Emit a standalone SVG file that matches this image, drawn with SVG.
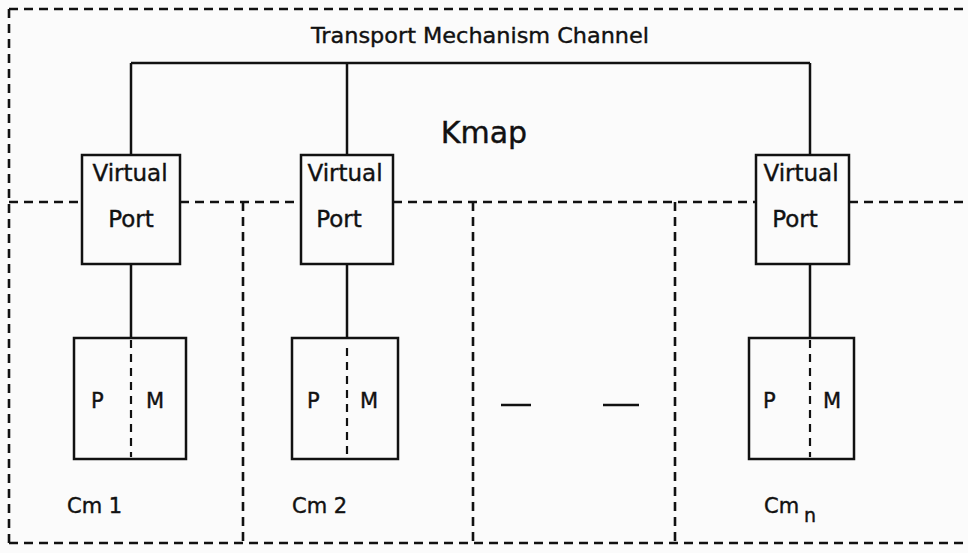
<svg xmlns="http://www.w3.org/2000/svg" width="968" height="553" viewBox="0 0 968 553">
<style>
.bg{fill:#fbfbfb}
.box{fill:none;stroke:#111;stroke-width:2.5}
.solid{fill:none;stroke:#111;stroke-width:2.5}
.dash{fill:none;stroke:#111;stroke-width:2.6;stroke-dasharray:9 6}
.idash{fill:none;stroke:#111;stroke-width:2.2;stroke-dasharray:8 6}
text{font-family:"DejaVu Sans","Liberation Sans",sans-serif;fill:#111;stroke:#111;stroke-width:0.4}
.lbl{font-size:23px;text-anchor:middle}
.pm{font-size:21px}
.cm{font-size:21px}
</style>
<rect class="bg" x="0" y="0" width="968" height="553"/>
<g id="partitions">
<line class="dash" x1="9" y1="9" x2="968" y2="9"/>
<line class="dash" x1="9" y1="9" x2="9" y2="543"/>
<line class="dash" x1="9" y1="543" x2="968" y2="543"/>
<line class="dash" x1="9" y1="202" x2="82" y2="202"/>
<line class="dash" x1="180" y1="202" x2="301" y2="202"/>
<line class="dash" x1="393" y1="202" x2="756" y2="202"/>
<line class="dash" x1="849" y1="202" x2="968" y2="202"/>
<line class="dash" x1="243" y1="202" x2="243" y2="543"/>
<line class="dash" x1="473" y1="202" x2="473" y2="543"/>
<line class="dash" x1="675" y1="202" x2="675" y2="543"/>
</g>
<g id="title">
<text x="480" y="43" style="font-size:22px;text-anchor:middle" textLength="338" lengthAdjust="spacingAndGlyphs">Transport Mechanism Channel</text>
</g>
<g id="kmap">
<text x="484" y="143" style="font-size:30px;text-anchor:middle">Kmap</text>
</g>
<g id="connectors">
<line class="solid" x1="131" y1="63" x2="810" y2="63"/>
<line class="solid" x1="131" y1="63" x2="131" y2="155"/>
<line class="solid" x1="347" y1="63" x2="347" y2="155"/>
<line class="solid" x1="810" y1="63" x2="810" y2="155"/>
<line class="solid" x1="131" y1="264" x2="131" y2="338"/>
<line class="solid" x1="347" y1="264" x2="347" y2="338"/>
<line class="solid" x1="810" y1="264" x2="810" y2="338"/>
</g>
<g id="vp1">
<rect class="box" x="82" y="155" width="98" height="109"/>
<text class="lbl" x="130" y="181">Virtual</text>
<text class="lbl" x="131" y="227">Port</text>
</g>
<g id="vp2">
<rect class="box" x="301" y="155" width="92" height="109"/>
<text class="lbl" x="345" y="181">Virtual</text>
<text class="lbl" x="339" y="227">Port</text>
</g>
<g id="vp3">
<rect class="box" x="756" y="155" width="93" height="109"/>
<text class="lbl" x="801" y="181">Virtual</text>
<text class="lbl" x="795" y="227">Port</text>
</g>
<g id="cm1">
<rect class="box" x="74" y="338" width="112" height="121"/>
<line class="idash" x1="131" y1="340" x2="131" y2="457"/>
<text class="pm" x="91" y="408">P</text>
<text class="pm" x="146" y="408">M</text>
<text class="cm" x="67" y="513">Cm 1</text>
</g>
<g id="cm2">
<rect class="box" x="292" y="338" width="106" height="121"/>
<line class="idash" x1="347" y1="348" x2="347" y2="455"/>
<text class="pm" x="307" y="408">P</text>
<text class="pm" x="360" y="408">M</text>
<text class="cm" x="292" y="513">Cm 2</text>
</g>
<g id="ellipsis">
<line class="solid" x1="501" y1="405" x2="531" y2="405"/>
<line class="solid" x1="603" y1="405" x2="639" y2="405"/>
</g>
<g id="cmn">
<rect class="box" x="749" y="338" width="105" height="121"/>
<line class="idash" x1="810" y1="340" x2="810" y2="457"/>
<text class="pm" x="763" y="408">P</text>
<text class="pm" x="823" y="408">M</text>
<text class="cm" x="764" y="513">Cm</text>
<text class="cm" x="804" y="522" style="font-size:19px">n</text>
</g>
</svg>
